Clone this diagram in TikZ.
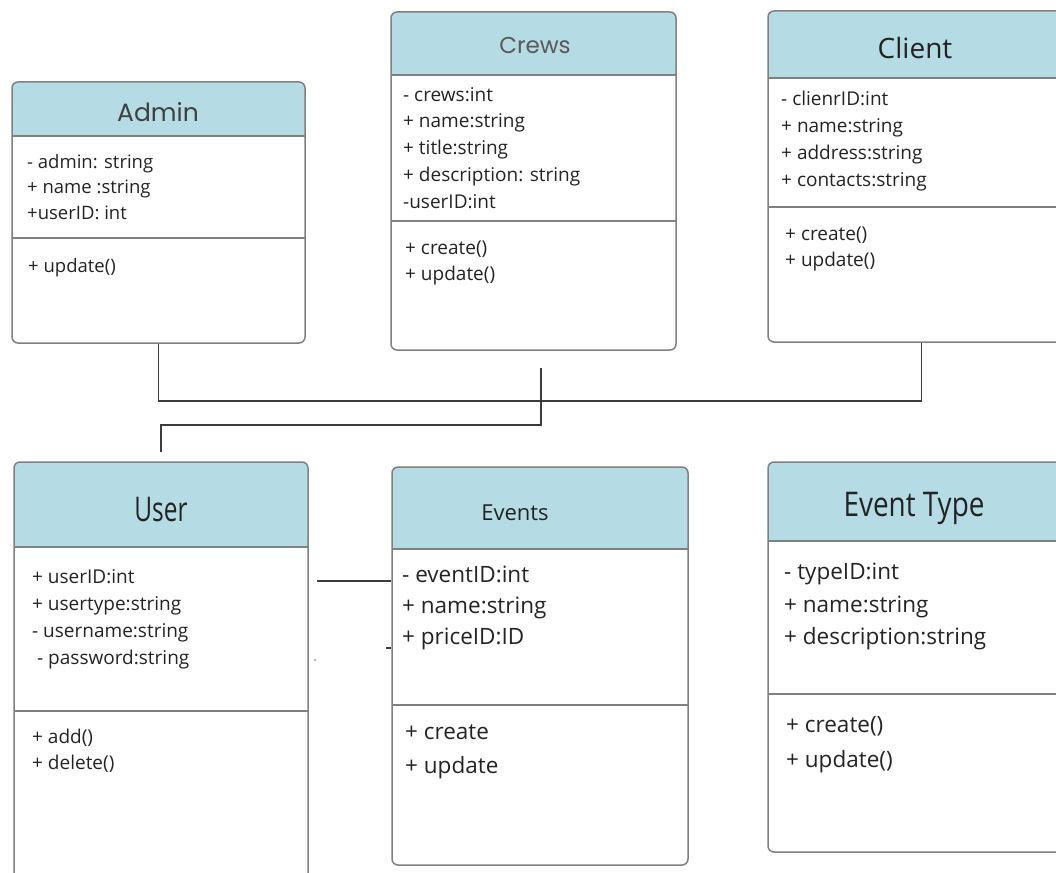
\documentclass[tikz,border=0pt]{standalone}
\usepackage{fontspec}
\setmainfont{Open Sans}
\newfontfamily\titlefont{Poppins}
\usetikzlibrary{fit}
\definecolor{headblue}{RGB}{181,219,229}
\definecolor{boxgray}{RGB}{128,128,128}
\definecolor{linkgray}{RGB}{60,60,60}
\definecolor{textdark}{RGB}{35,35,35}
\begin{document}
\begin{tikzpicture}[x=1pt,y=-1pt,
    classbox/.style={draw=boxgray, line width=1.5pt, rounded corners=6pt, inner sep=0pt},
    divider/.style={draw=boxgray, line width=1.5pt},
    link/.style={draw=linkgray, line width=1.8pt},
    member/.style={anchor=north west, align=left, inner sep=0pt, text=textdark},
    title/.style={inner sep=0pt, text=textdark}]
        \useasboundingbox (0,0) rectangle (1056,872);
        \clip (0,0) rectangle (1056,872);

        % Admin
        \fill[headblue, rounded corners=6pt] (12,82) rectangle (305,136);
        \fill[headblue] (12,120) rectangle (305,136);
        \node[classbox, fit={(12,82) (305,343)}] (admin) {};
        \draw[divider] (12,136) -- (305,136);
        \draw[divider] (12,238) -- (305,238);
        \node[title, text=black!75, font=\titlefont\fontsize{25}{28}\selectfont] (admintitle) at (158,112) {Admin};
        \node[member, font=\fontsize{18.5}{25.5}\selectfont] (adminattr) at (27,154) {- admin: string\\+ name :string\\+userID: int};
        \node[member, font=\fontsize{18.5}{25.5}\selectfont] (adminops) at (28,258) {+ update()};

        % Crews
        \fill[headblue, rounded corners=6pt] (391,12) rectangle (676,75);
        \fill[headblue] (391,60) rectangle (676,75);
        \node[classbox, fit={(391,12) (676,350)}] (crews) {};
        \draw[divider] (391,75) -- (676,75);
        \draw[divider] (391,221) -- (676,221);
        \node[title, text=black!65, font=\titlefont\fontsize{23}{26}\selectfont] (crewstitle) at (535,45) {Crews};
        \node[member, font=\fontsize{19}{26.8}\selectfont] (crewsattr) at (403,87) {- crews:int\\+ name:string\\+ title:string\\+ description: string\\-userID:int};
        \node[member, font=\fontsize{19}{26}\selectfont] (crewsops) at (405,241) {+ create()\\+ update()};

        % Client
        \fill[headblue, rounded corners=6pt] (768,11) rectangle (1075,78);
        \fill[headblue] (768,60) rectangle (1075,78);
        \node[classbox, fit={(768,11) (1075,342)}] (client) {};
        \draw[divider] (768,78) -- (1075,78);
        \draw[divider] (768,207) -- (1075,207);
        \node[title, font=\fontsize{28}{32}\selectfont] (clienttitle) at (915,48) {Client};
        \node[member, font=\fontsize{19}{27}\selectfont] (clientattr) at (781,91) {- clienrID:int\\+ name:string\\+ address:string\\+ contacts:string};
        \node[member, font=\fontsize{19}{26}\selectfont] (clientops) at (785,227) {+ create()\\+ update()};

        % User
        \fill[headblue, rounded corners=6pt] (14,462) rectangle (308,547);
        \fill[headblue] (14,530) rectangle (308,547);
        \node[classbox, fit={(14,462) (308,895)}] (user) {};
        \draw[divider] (14,547) -- (308,547);
        \draw[divider] (14,711) -- (308,711);
        \node[title, font=\fontsize{34}{38}\selectfont] (usertitle) at (161,510) {\scalebox{0.72}[1]{User}};
        \node[member, font=\fontsize{19}{27}\selectfont] (userattr) at (32,569) {+ userID:int\\+ usertype:string\\- username:string\\\hspace{5pt}- password:string};
        \node[member, font=\fontsize{19}{26}\selectfont] (userops) at (32,729) {+ add()\\+ delete()};

        % Events
        \fill[headblue, rounded corners=6pt] (392,467) rectangle (688,549);
        \fill[headblue] (392,530) rectangle (688,549);
        \node[classbox, fit={(392,467) (688,865)}] (events) {};
        \draw[divider] (392,549) -- (688,549);
        \draw[divider] (392,705) -- (688,705);
        \node[title, font=\fontsize{22}{26}\selectfont] (eventstitle) at (515,513) {Events};
        \node[member, font=\fontsize{22.5}{31}\selectfont] (eventsattr) at (402,566) {- eventID:int\\+ name:string\\+ priceID:ID};
        \node[member, font=\fontsize{22.5}{34}\selectfont] (eventsops) at (405,724) {+ create\\+ update};

        % Event Type
        \fill[headblue, rounded corners=6pt] (768,462) rectangle (1075,541);
        \fill[headblue] (768,525) rectangle (1075,541);
        \node[classbox, fit={(768,462) (1075,852)}] (eventtype) {};
        \draw[divider] (768,541) -- (1075,541);
        \draw[divider] (768,694) -- (1075,694);
        \node[title, font=\fontsize{34}{38}\selectfont] (eventtypetitle) at (914,508) {\scalebox{0.82}[1]{Event Type}};
        \node[member, font=\fontsize{22.5}{32.5}\selectfont] (eventtypeattr) at (784,563) {- typeID:int\\+ name:string\\+ description:string};
        \node[member, font=\fontsize{22.5}{35}\selectfont] (eventtypeops) at (786,716) {+ create()\\+ update()};

        % collegamenti
        \coordinate (busright) at (client.south |- 0,401);
        \draw[link] (admin.south) |- (busright) -- (client.south);
        \coordinate (crewsstub) at (541,368);
        \coordinate (userstub) at (161,452);
        \draw[link] (crewsstub) -- (crewsstub |- 0,425) -| (userstub);
        \coordinate (userside) at (317,581);
        \draw[link] (userside) -- (events.west |- userside);
        \coordinate (eventstick) at (386,648);
        \draw[link, line width=1.5pt] (eventstick) -- (events.west |- eventstick);
        \fill[boxgray!60] (315,660) circle (1.3pt);
    \end{tikzpicture}
\end{document}
